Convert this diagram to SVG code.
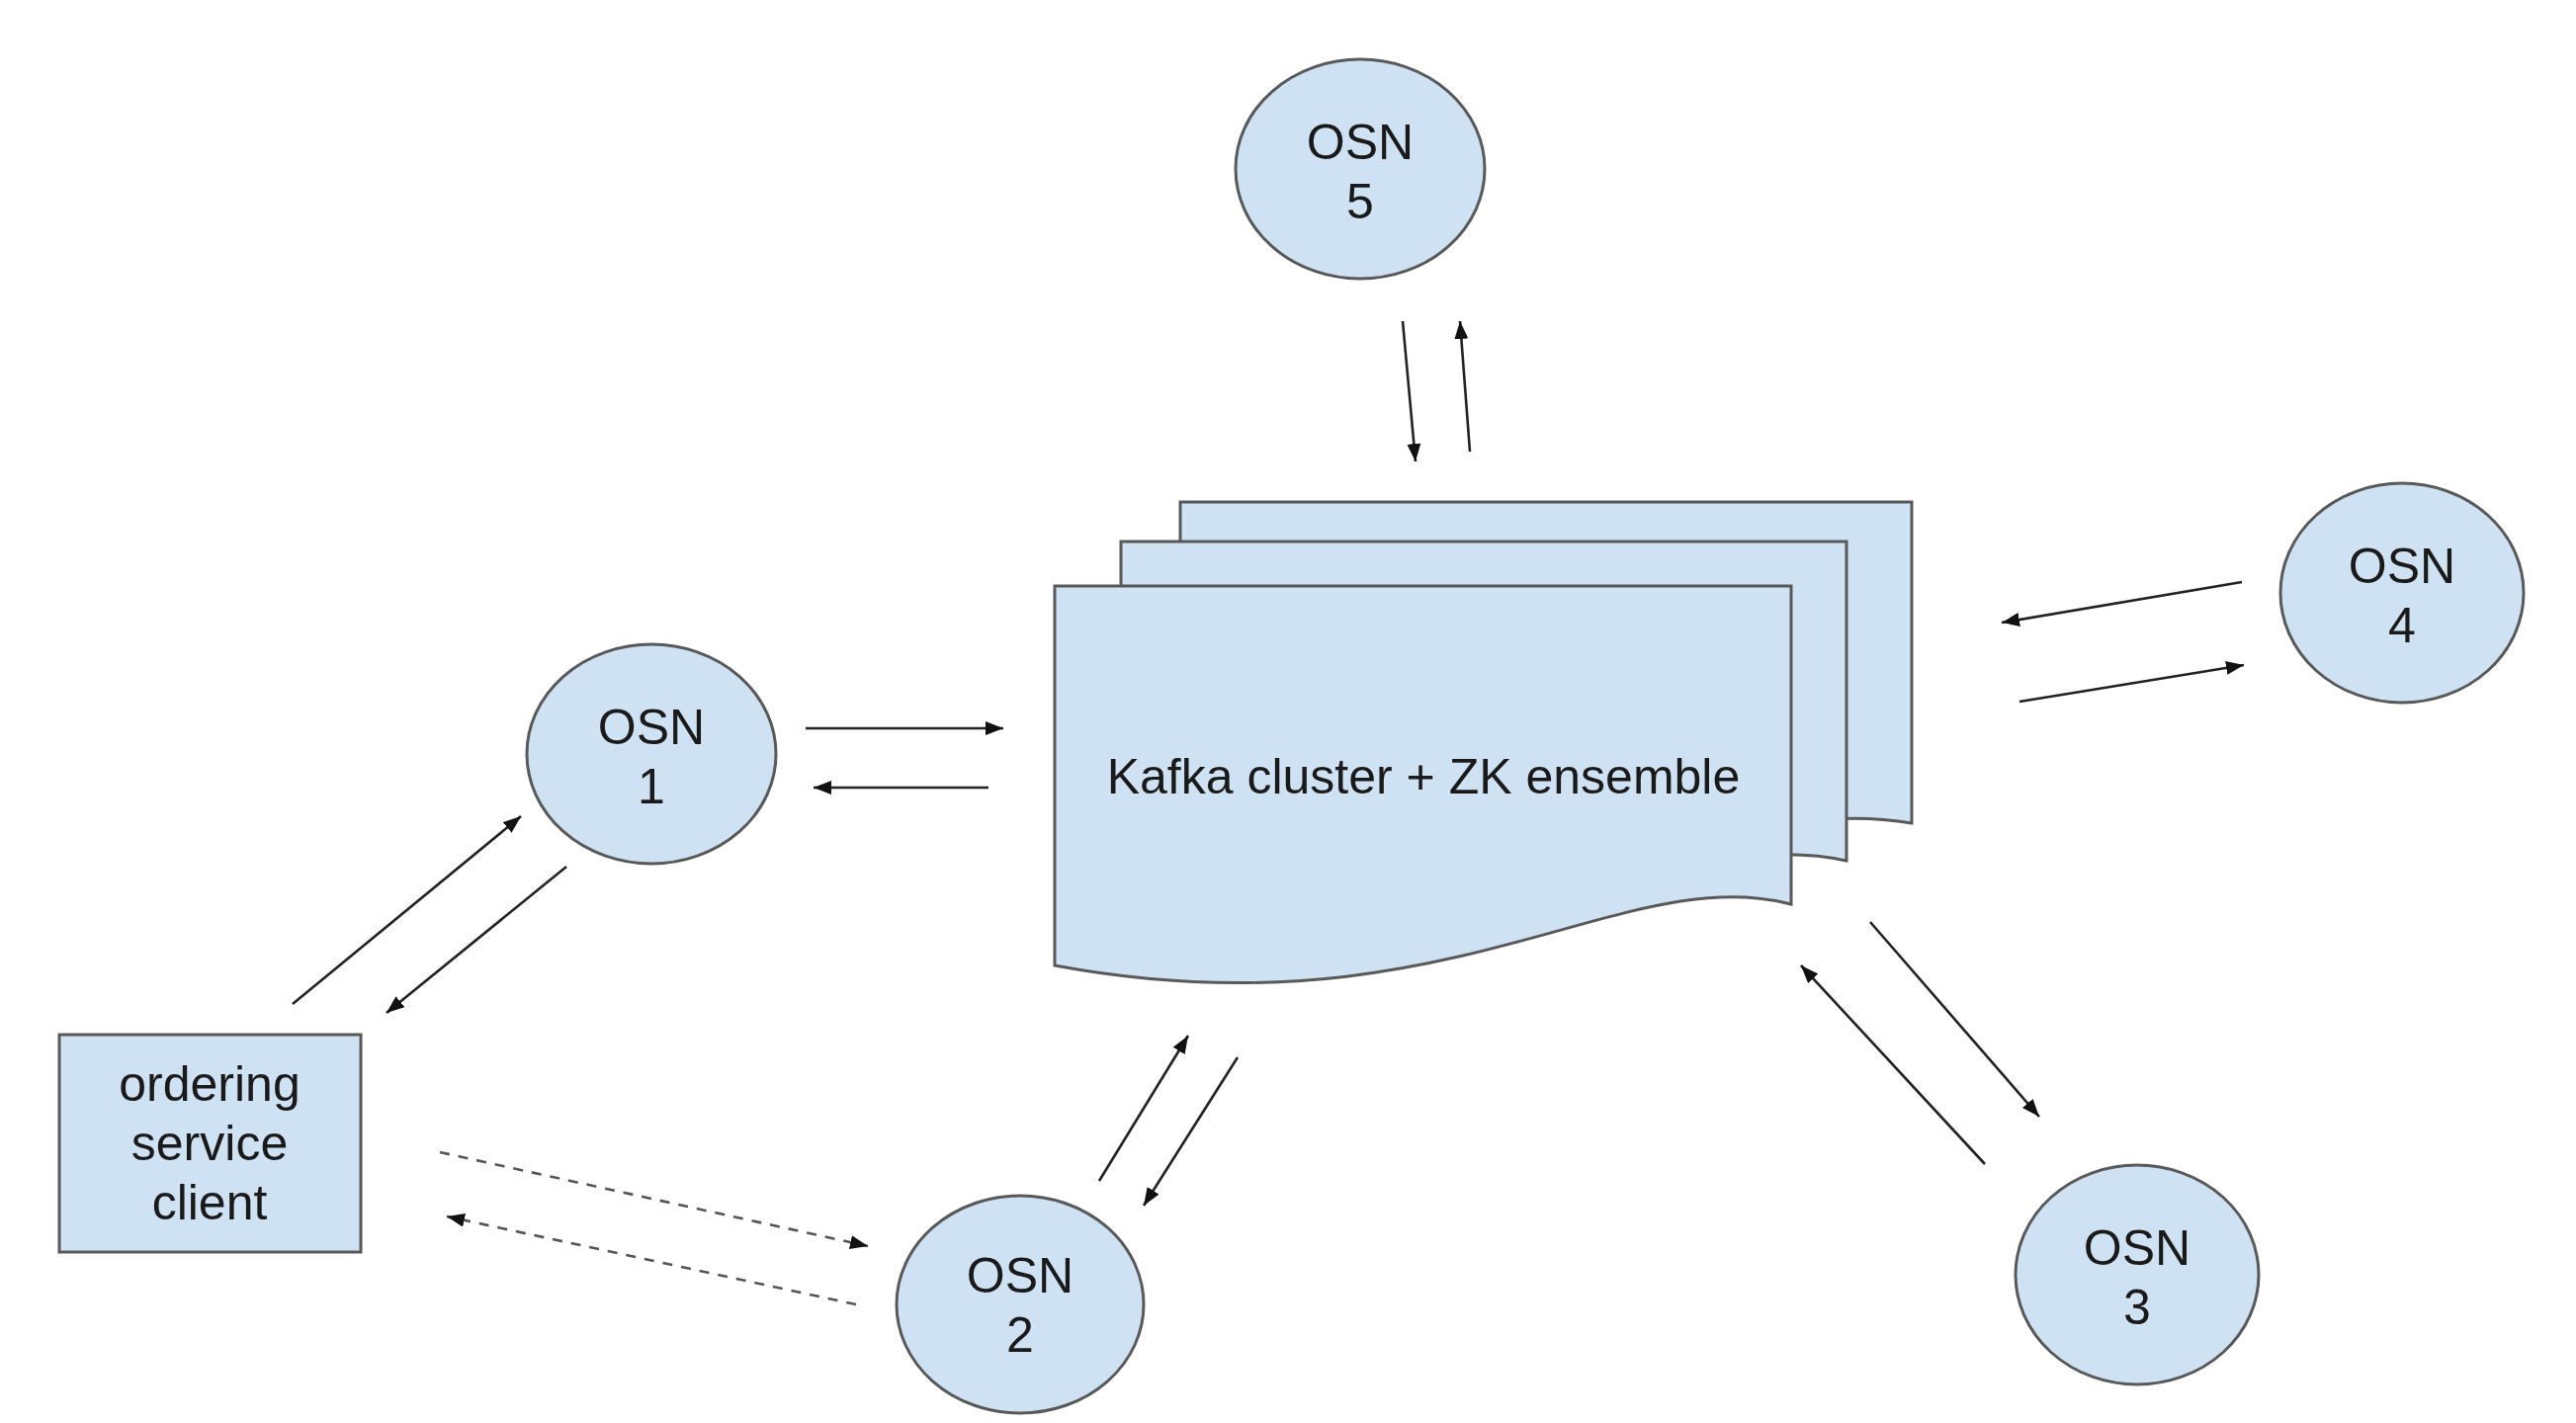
<svg xmlns="http://www.w3.org/2000/svg" width="2606" height="1440" viewBox="0 0 2606 1440">
  <style>
    .shape { fill: #cfe2f3; stroke: #595959; stroke-width: 3; }
    .lbl { font-family: "Liberation Sans", Arial, sans-serif; font-size: 50px; fill: #1a1a1a; text-anchor: middle; }
    .conn { fill: none; stroke: #222; stroke-width: 2.6; marker-end: url(#arrow); }
    .dash { fill: none; stroke: #555; stroke-width: 2.6; stroke-dasharray: 10 9; marker-end: url(#arrow); }
  </style>
  <defs>
    <marker id="arrow" markerUnits="userSpaceOnUse" markerWidth="20" markerHeight="16" refX="18" refY="7" orient="auto">
      <path d="M0,0 L18,7 L0,14 Z" fill="#111"/>
    </marker>
  </defs>
  <rect width="2606" height="1440" fill="#ffffff"/>

  <g id="kafka">
    <path class="shape" d="M1194,508 H1934 V833 C1740,800 1560,950 1194,892 Z"/>
    <path class="shape" d="M1134,548 H1868 V871 C1680,830 1500,1005 1134,932 Z"/>
    <path class="shape" d="M1067,593 H1812 V915 C1640,870 1460,1050 1067,977 Z"/>
    <text class="lbl" x="1440" y="803">Kafka cluster + ZK ensemble</text>
  </g>

  <g id="osn5">
    <ellipse class="shape" cx="1376" cy="171" rx="126" ry="111"/>
    <text class="lbl" x="1376" y="161">OSN</text>
    <text class="lbl" x="1376" y="221">5</text>
  </g>
  <g id="osn4">
    <ellipse class="shape" cx="2430" cy="600" rx="123" ry="111"/>
    <text class="lbl" x="2430" y="590">OSN</text>
    <text class="lbl" x="2430" y="650">4</text>
  </g>
  <g id="osn1">
    <ellipse class="shape" cx="659" cy="763" rx="126" ry="111"/>
    <text class="lbl" x="659" y="753">OSN</text>
    <text class="lbl" x="659" y="813">1</text>
  </g>
  <g id="osn2">
    <ellipse class="shape" cx="1032" cy="1320" rx="125" ry="110"/>
    <text class="lbl" x="1032" y="1308">OSN</text>
    <text class="lbl" x="1032" y="1368">2</text>
  </g>
  <g id="osn3">
    <ellipse class="shape" cx="2162" cy="1290" rx="123" ry="111"/>
    <text class="lbl" x="2162" y="1280">OSN</text>
    <text class="lbl" x="2162" y="1340">3</text>
  </g>
  <g id="client">
    <rect class="shape" x="60" y="1047" width="305" height="220"/>
    <text class="lbl" x="212" y="1114">ordering</text>
    <text class="lbl" x="212" y="1174">service</text>
    <text class="lbl" x="212" y="1234">client</text>
  </g>

  <g id="connectors">
    <line class="conn" x1="1419" y1="325" x2="1432" y2="467"/>
    <line class="conn" x1="1487" y1="457" x2="1477" y2="325"/>
    <line class="conn" x1="815" y1="737" x2="1015" y2="737"/>
    <line class="conn" x1="1000" y1="797" x2="823" y2="797"/>
    <line class="conn" x1="296" y1="1016" x2="527" y2="826"/>
    <line class="conn" x1="573" y1="877" x2="391" y2="1025"/>
    <line class="conn" x1="1112" y1="1195" x2="1202" y2="1048"/>
    <line class="conn" x1="1252" y1="1070" x2="1157" y2="1220"/>
    <line class="conn" x1="1892" y1="933" x2="2063" y2="1130"/>
    <line class="conn" x1="2008" y1="1178" x2="1822" y2="977"/>
    <line class="conn" x1="2268" y1="589" x2="2025" y2="630"/>
    <line class="conn" x1="2043" y1="710" x2="2270" y2="673"/>
    <line class="dash" x1="445" y1="1166" x2="878" y2="1261"/>
    <line class="dash" x1="866" y1="1320" x2="452" y2="1231"/>
  </g>
</svg>
